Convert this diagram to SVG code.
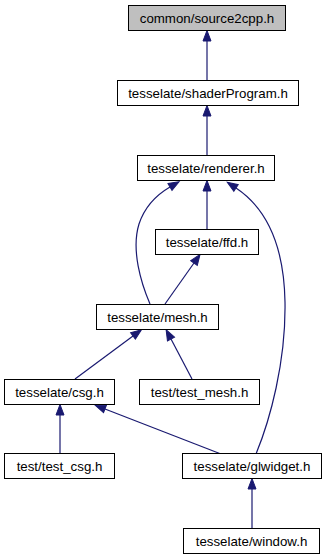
<svg xmlns="http://www.w3.org/2000/svg" width="327" height="560" viewBox="0 0 327 560">
  <style>
    .node rect { fill: #ffffff; stroke: #000000; stroke-width: 1; }
    .node.root rect { fill: #bfbfbf; }
    .node text { font-family: "Liberation Sans", Arial, Helvetica, sans-serif; font-size: 13.3px; fill: #000000; text-anchor: middle; }
    .edges path { fill: none; stroke: #191970; stroke-width: 1.2; marker-end: url(#head); }
  </style>
  <defs>
    <marker id="head" markerUnits="userSpaceOnUse" markerWidth="12" markerHeight="10" refX="0" refY="0" viewBox="0 -5 12 10" orient="auto" overflow="visible">
      <path d="M0,-4 L10.5,0 L0,4 z" fill="#191970" stroke="#191970" stroke-width="1"/>
    </marker>
  </defs>
  <rect width="327" height="560" fill="#ffffff"/>

  <g class="edges" id="edges">
    <path d="M207,80 L207,41"/>
    <path d="M207,155 L207,116"/>
    <path d="M207,229 L207,191"/>
    <path d="M150,304 C141,283 131,250 139,224 C145,206 158,194 170,187"/>
    <path d="M165,304 L194,263"/>
    <path d="M256,454 C270,420 286,362 285,302 C284,245 266,208 236,188"/>
    <path d="M75,379 L133,336"/>
    <path d="M192,379 L171,339"/>
    <path d="M60,453 L60,415"/>
    <path d="M221,454 L105,409"/>
    <path d="M252,528 L252,489"/>
  </g>

  <g class="node root" id="node-source2cpp">
    <rect x="128.5" y="5.5" width="157" height="25"/>
    <text x="207" y="22.5">common/source2cpp.h</text>
  </g>
  <g class="node" id="node-shaderProgram">
    <rect x="117.5" y="80.5" width="181" height="25"/>
    <text x="208" y="97.5">tesselate/shaderProgram.h</text>
  </g>
  <g class="node" id="node-renderer">
    <rect x="137.5" y="155.5" width="137" height="25"/>
    <text x="206" y="172.5">tesselate/renderer.h</text>
  </g>
  <g class="node" id="node-ffd">
    <rect x="155.5" y="229.5" width="103" height="25"/>
    <text x="207" y="246.5">tesselate/ffd.h</text>
  </g>
  <g class="node" id="node-mesh">
    <rect x="96.5" y="304.5" width="122" height="25"/>
    <text x="157.5" y="321.5">tesselate/mesh.h</text>
  </g>
  <g class="node" id="node-csg">
    <rect x="4.5" y="379.5" width="110" height="25"/>
    <text x="59.5" y="396.5">tesselate/csg.h</text>
  </g>
  <g class="node" id="node-test_mesh">
    <rect x="139.5" y="379.5" width="120" height="25"/>
    <text x="199.5" y="396.5">test/test_mesh.h</text>
  </g>
  <g class="node" id="node-test_csg">
    <rect x="4.5" y="453.5" width="110" height="25"/>
    <text x="59.5" y="470.5">test/test_csg.h</text>
  </g>
  <g class="node" id="node-glwidget">
    <rect x="182.5" y="453.5" width="139" height="25"/>
    <text x="252" y="470.5">tesselate/glwidget.h</text>
  </g>
  <g class="node" id="node-window">
    <rect x="183.5" y="528.5" width="136" height="25"/>
    <text x="251.5" y="545.5">tesselate/window.h</text>
  </g>
</svg>
